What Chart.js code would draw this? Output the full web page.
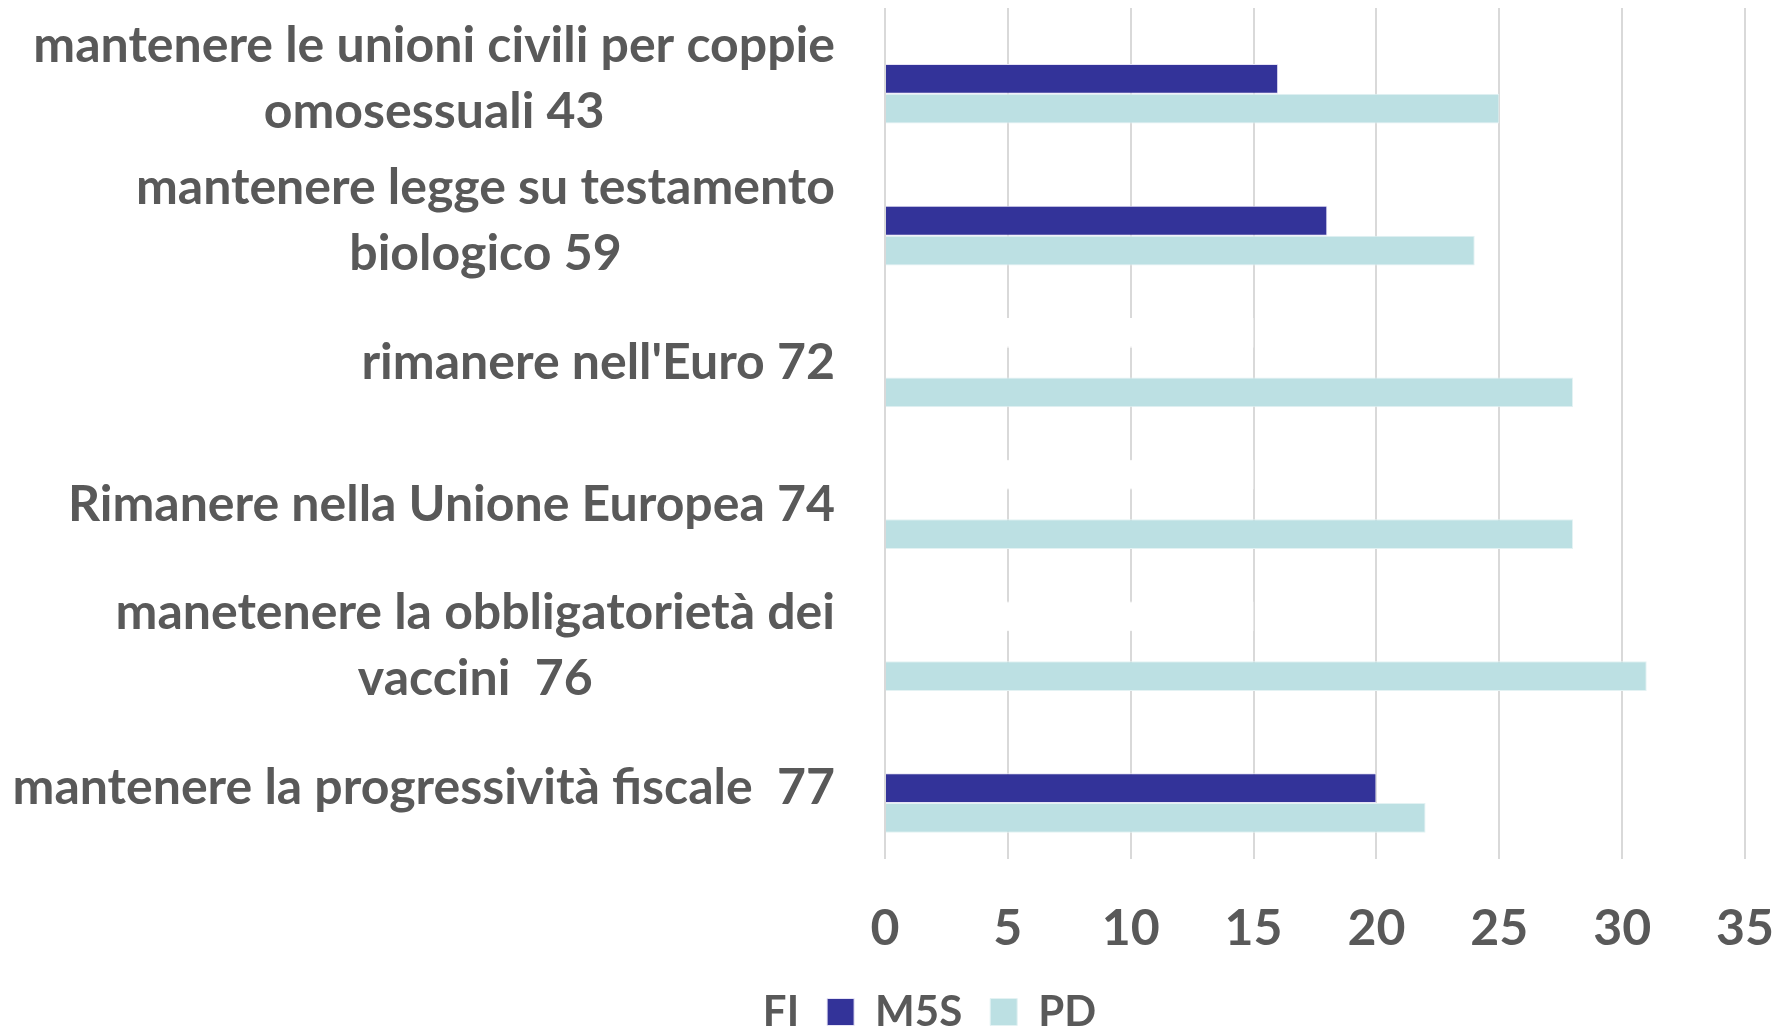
<!DOCTYPE html>
<html>
<head>
<meta charset="utf-8">
<title>Posizioni per partito</title>
<script src="https://cdn.jsdelivr.net/npm/chart.js@4.4.1/dist/chart.umd.min.js"></script>
<style>
  html, body { margin: 0; padding: 0; background: #ffffff; }
  #wrap { width: 1787px; height: 1031px; }
</style>
</head>
<body>
<div id="wrap"><canvas id="chart_temi" width="1787" height="1031"></canvas></div>
<script>
// categories (each label can be split over two lines)
var categories = [
    ["mantenere le unioni civili per coppie", "omosessuali 43"],
    ["mantenere legge su testamento", "biologico 59"],
    ["rimanere nell'Euro 72"],
    ["Rimanere nella Unione Europea 74"],
    ["manetenere la obbligatorietà dei", "vaccini  76"],
    ["mantenere la progressività fiscale  77"]
];
var seriesNames = ["FI", "M5S", "PD"];
var fiValues  = [0, 0, 15, 15, 15, 0];
var m5sValues = [16, 18, 0, 0, 0, 20];
var pdValues  = [25, 24, 28, 28, 31, 22];
var xTicks = [0, 5, 10, 15, 20, 25, 30, 35];

var TEXT_GREY = "#595959";
var FONT_NAME = "Lato";

//----------------------------------------------------------------------------
// draws the y labels: block right aligned next to the axis, lines centred
//----------------------------------------------------------------------------
var centeredLabels = {
    id: "centeredLabels",
    afterDraw: function (chart) {
        var ctx = chart.ctx;
        var yScale = chart.scales.y;
        var right = chart.chartArea.left - 50;
        var lineHeight = 66;
        ctx.save();
        ctx.font = "bold 50px " + FONT_NAME;
        ctx.fillStyle = TEXT_GREY;
        ctx.textAlign = "center";
        ctx.textBaseline = "middle";
        chart.data.labels.forEach(function (lines, i) {
            var yc = yScale.getPixelForValue(i);
            var w = 0;
            lines.forEach(function (l) { w = Math.max(w, ctx.measureText(l).width); });
            var cx = right - w / 2;
            lines.forEach(function (l, j) {
                ctx.fillText(l, cx, yc + (j - (lines.length - 1) / 2) * lineHeight);
            });
        });
        ctx.restore();
    }
};

function DrawChart() {
    try {
        new Chart(document.getElementById("chart_temi"), {
            type: "bar",
            data: {
                labels: categories,
                datasets: [
                    { label: seriesNames[0], data: fiValues,  backgroundColor: "#ffffff", borderColor: "#ffffff", borderWidth: 1 },
                    { label: seriesNames[1], data: m5sValues, backgroundColor: "#333399", borderColor: "#e6e3f5", borderWidth: 1 },
                    { label: seriesNames[2], data: pdValues,  backgroundColor: "#bce0e3", borderColor: "#e3f2f3", borderWidth: 1 }
                ]
            },
            options: {
                indexAxis: "y",
                responsive: false,
                animation: false,
                devicePixelRatio: 1,
                layout: { padding: { left: 66, right: 42, top: 8, bottom: -12 } },
                datasets: { bar: { barPercentage: 1, categoryPercentage: 0.63 } },
                scales: {
                    x: {
                        min: 0, max: 35,
                        afterBuildTicks: function (s) { s.ticks = xTicks.map(function (v) { return { value: v }; }); },
                        grid: { color: "#d9d9d9", lineWidth: 2, drawTicks: false },
                        border: { display: false },
                        ticks: {
                            color: TEXT_GREY,
                            font: { family: FONT_NAME, size: 50, weight: "bold" },
                            padding: 40
                        },
                        afterFit: function (s) {
                            s.height = 104;
                            s.paddingLeft = 0;
                            s.paddingRight = 0;
                        }
                    },
                    y: {
                        grid: { display: false },
                        border: { display: false },
                        ticks: { display: false },
                        afterFit: function (s) { s.width = 819; }
                    }
                },
                plugins: {
                    legend: {
                        position: "bottom",
                        labels: {
                            color: TEXT_GREY,
                            font: { family: FONT_NAME, size: 42, weight: "bold" },
                            boxWidth: 27,
                            boxHeight: 27,
                            padding: 28
                        }
                    },
                    tooltip: { enabled: false }
                }
            },
            plugins: [centeredLabels]
        });
    }
    catch (e) {
        console.error(e);
    }
}

DrawChart();
</script>
</body>
</html>
